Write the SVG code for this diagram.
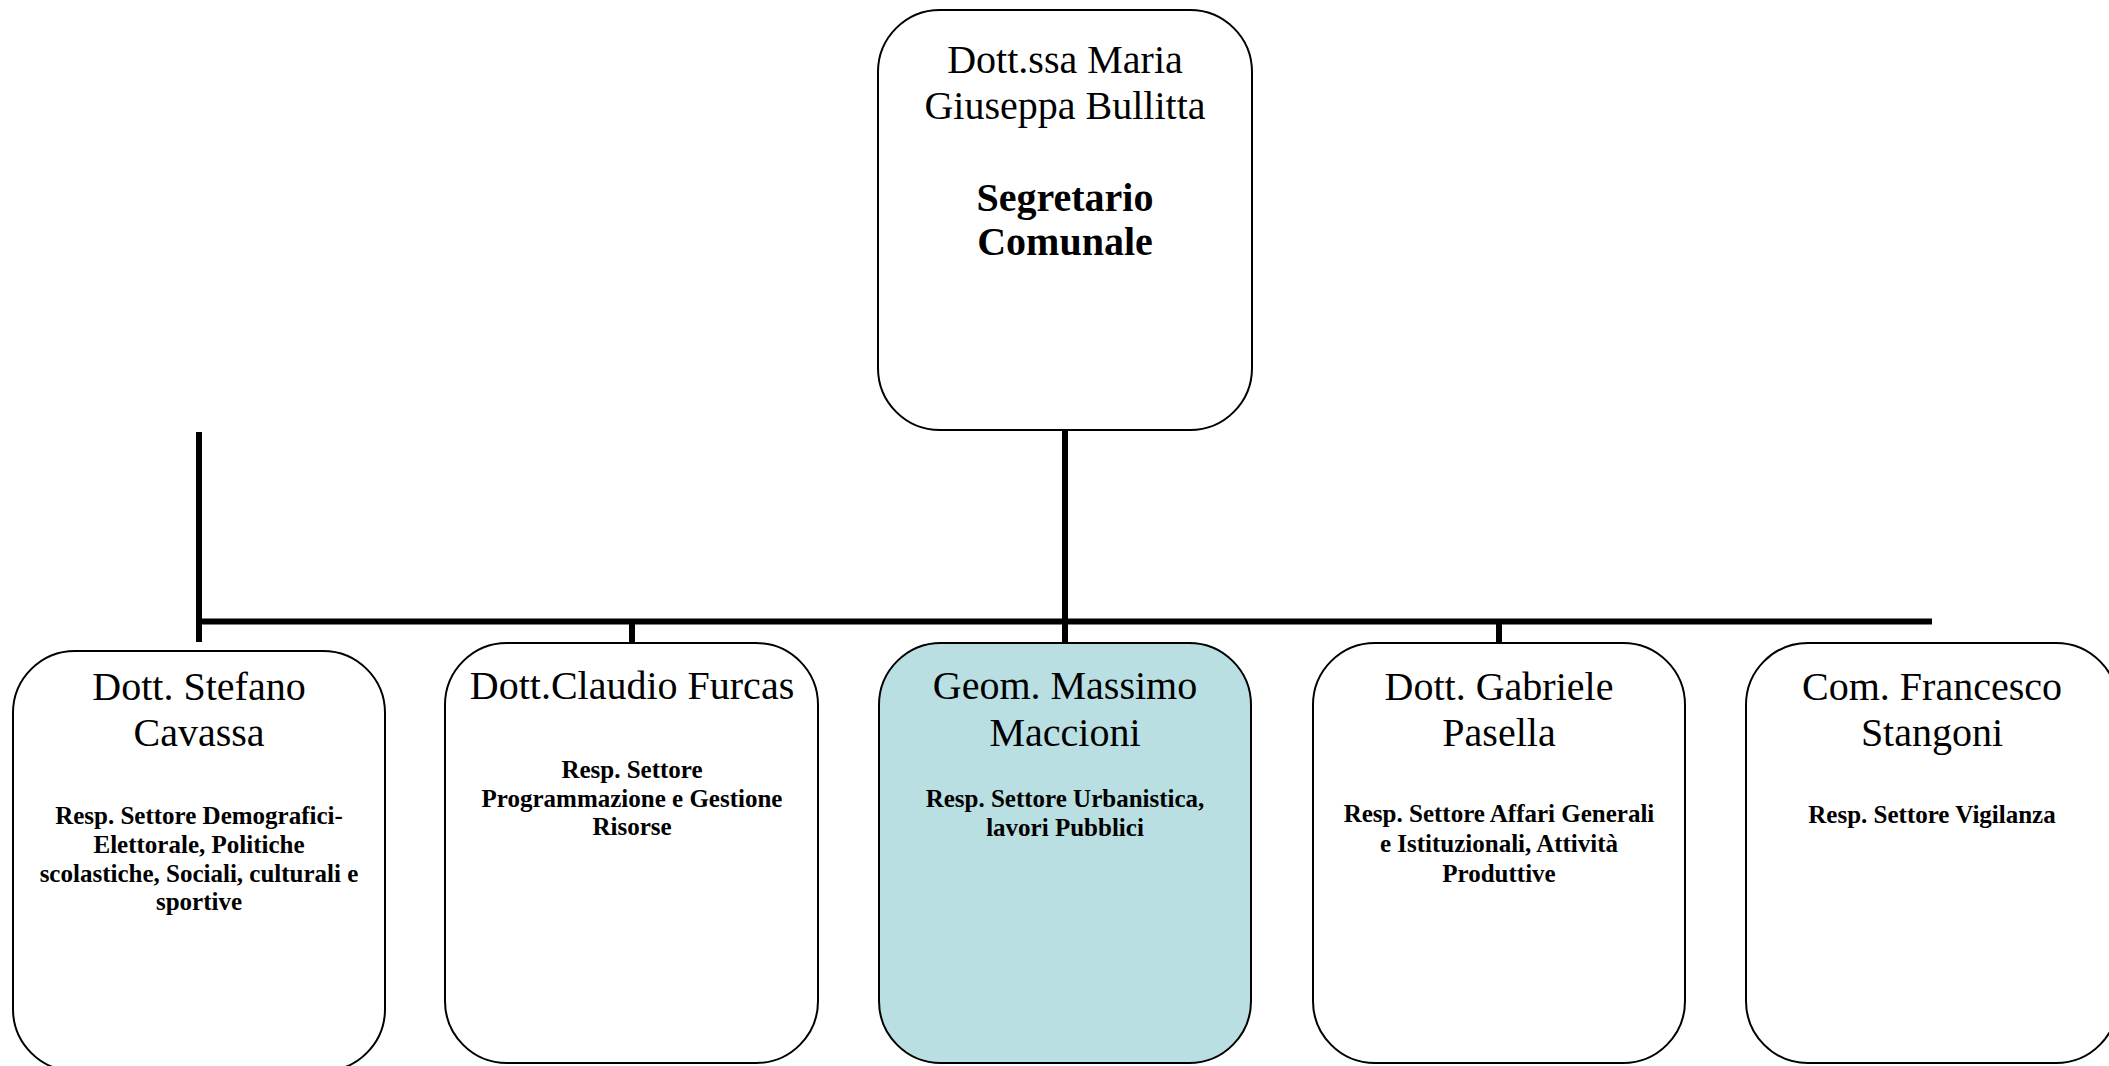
<svg xmlns="http://www.w3.org/2000/svg" width="2109" height="1066" viewBox="0 0 2109 1066">
<style>
.box{fill:#ffffff;stroke:#000000;stroke-width:2}
.hl{fill:#B9DFE3}
.name{font-family:"Liberation Serif","Times New Roman",serif;font-size:40px;text-anchor:middle;fill:#000}
.title{font-family:"Liberation Serif","Times New Roman",serif;font-size:40px;font-weight:bold;text-anchor:middle;fill:#000}
.sub{font-family:"Liberation Serif","Times New Roman",serif;font-size:25px;font-weight:bold;text-anchor:middle;fill:#000}
.conn{stroke:#000;stroke-width:6;fill:none}
</style>
<rect width="2109" height="1066" fill="#ffffff"/>
<g id="connectors">
<line class="conn" x1="1065" y1="430" x2="1065" y2="643"/>
<line class="conn" x1="199" y1="432" x2="199" y2="642"/>
<line class="conn" x1="196" y1="621.5" x2="1932" y2="621.5"/>
<line class="conn" x1="632" y1="621" x2="632" y2="643"/>
<line class="conn" x1="1499" y1="621" x2="1499" y2="643"/>
</g>
<g id="node-segretario">
<rect class="box" x="878" y="10" width="374" height="420" rx="62" ry="62"/>
<text class="name" x="1065" y="73">Dott.ssa Maria</text>
<text class="name" x="1065" y="119">Giuseppa Bullitta</text>
<text class="title" x="1065" y="211">Segretario</text>
<text class="title" x="1065" y="255">Comunale</text>
</g>
<g id="node-cavassa">
<rect class="box" x="13" y="651" width="372" height="420" rx="62" ry="62"/>
<text class="name" x="199" y="700">Dott. Stefano</text>
<text class="name" x="199" y="746">Cavassa</text>
<text class="sub" x="199" y="824">Resp. Settore Demografici-</text>
<text class="sub" x="199" y="853">Elettorale, Politiche</text>
<text class="sub" x="199" y="882">scolastiche, Sociali, culturali e</text>
<text class="sub" x="199" y="910">sportive</text>
</g>
<g id="node-furcas">
<rect class="box" x="445" y="643" width="373" height="420" rx="62" ry="62"/>
<text class="name" x="632" y="699">Dott.Claudio Furcas</text>
<text class="sub" x="632" y="778">Resp. Settore</text>
<text class="sub" x="632" y="807">Programmazione e Gestione</text>
<text class="sub" x="632" y="835">Risorse</text>
</g>
<g id="node-maccioni">
<rect class="box hl" x="879" y="643" width="372" height="420" rx="62" ry="62"/>
<text class="name" x="1065" y="699">Geom. Massimo</text>
<text class="name" x="1065" y="746">Maccioni</text>
<text class="sub" x="1065" y="807">Resp. Settore Urbanistica,</text>
<text class="sub" x="1065" y="836">lavori Pubblici</text>
</g>
<g id="node-pasella">
<rect class="box" x="1313" y="643" width="372" height="420" rx="62" ry="62"/>
<text class="name" x="1499" y="700">Dott. Gabriele</text>
<text class="name" x="1499" y="746">Pasella</text>
<text class="sub" x="1499" y="822">Resp. Settore Affari Generali</text>
<text class="sub" x="1499" y="852">e Istituzionali, Attività</text>
<text class="sub" x="1499" y="882">Produttive</text>
</g>
<g id="node-stangoni">
<rect class="box" x="1746" y="643" width="372" height="420" rx="62" ry="62"/>
<text class="name" x="1932" y="700">Com. Francesco</text>
<text class="name" x="1932" y="746">Stangoni</text>
<text class="sub" x="1932" y="823">Resp. Settore Vigilanza</text>
</g>
</svg>
